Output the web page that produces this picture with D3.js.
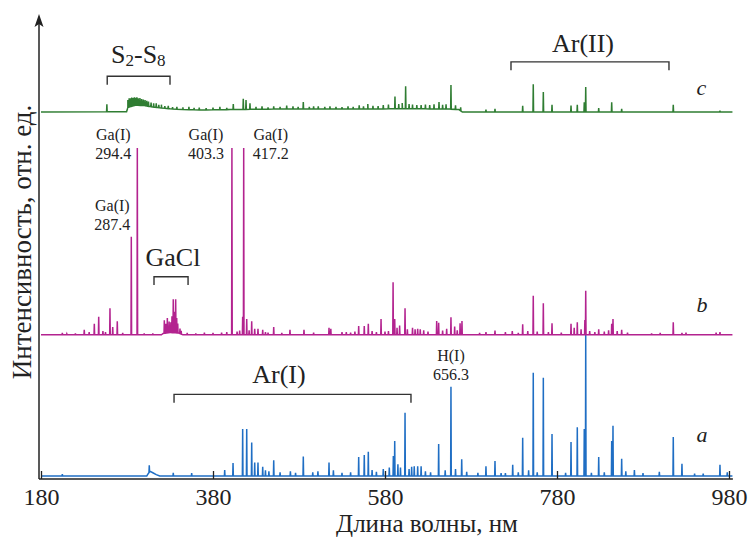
<!DOCTYPE html>
<html lang="ru">
<head>
    <meta charset="UTF-8">
    <script src="https://d3js.org/d3.v7.min.js"></script>
    <style>
        body { margin: 0; background: #fff; }
        text { font-family: "Liberation Serif", "Times New Roman", serif; fill: #222; }
    </style>
</head>
<body>
    <svg id="chart" width="750" height="538"></svg>
    <script>
        // ---- data (wavelength, nm / relative intensity) ----
        const xTicks = [180, 380, 580, 780, 980];
        const seriesOffsets = { a: 0.65, b: 31.0, c: 78.9 };

        // smooth background of each spectrum: [nm, level]
        const contA = [[180, 0], [303, 0], [305, 0.6], [307, 1.0], [310, 0.7], [314, 0.3], [318, 0], [984, 0]];
        const contB = [[180, 0], [320, 0], [322, 0.3], [330, 0.5], [340, 0.4], [345, 0], [984, 0]];
        const contC = [[180, 0], [279.5, 0.1], [281, 1.0], [290, 1.5], [300, 1.4], [310, 1.1], [320, 0.9],
            [330, 0.7], [345, 0.55], [370, 0.45], [400, 0.55], [450, 0.65], [500, 0.65], [560, 0.65],
            [600, 0.75], [655, 0.65], [666, 0.55], [670, 0], [984, 0]];

        // lines: [nm, height above background]
        const peaksA = [[204.8, 0.4], [305.9, 1.5], [333.8, 0.7], [355.2, 0.6], [393.6, 1.3], [403.3, 2.8],
            [414.5, 10.1], [419.2, 10.1], [425.0, 7.2], [428.5, 2.9], [432.3, 2.9], [437.8, 2.0], [441, 1.2],
            [445, 1.0], [450.6, 3.4], [458, 0.8], [470, 1.0], [476, 0.7], [485.0, 4.2], [496, 0.8], [502, 1.0],
            [514.9, 2.9], [520, 1.2], [530, 0.7], [540, 0.8], [549.4, 4.1], [555.9, 4.5], [560.6, 5.2],
            [565, 1.3], [570, 0.9], [578, 1.5], [585, 1.8], [589.7, 4.3], [591.3, 7.5], [595, 2.5], [598, 1.8],
            [603.3, 13.6], [608, 1.5], [611, 2.0], [614, 2.1], [618, 2.1], [622, 2.1], [627, 1.0], [633, 0.8],
            [642.4, 6.9], [650, 1.2], [656.7, 19.2], [662, 1.5], [669.2, 3.6], [675, 0.9], [688, 0.7],
            [697.4, 2.1], [707.9, 3.2], [715, 0.6], [720, 0.6], [728.5, 2.4], [735, 0.8], [740.1, 8.2],
            [747, 1.2], [752.4, 22.2], [757, 0.8], [764.1, 21.1], [774.2, 9.0], [790, 0.7], [796.3, 7.3],
            [803.6, 10.5], [811.7, 10.1], [813.4, 30.3], [820, 0.7], [828.5, 4.1], [835, 0.8], [843.6, 7.5],
            [845.1, 10.8], [855.2, 3.7], [860, 1.0], [870, 1.3], [880, 0.6], [899, 0.9], [915.2, 8.4],
            [925.3, 2.6], [940, 0.5], [950, 0.5], [969.5, 2.4], [978, 0.8]];

        const peaksB = [[204.8, 0.4], [210, 0.2], [220, 0.3], [230.3, 1.1], [236, 0.6], [242, 2.4], [247.1, 3.9],
            [252, 0.8], [255, 0.6], [260.2, 5.7], [263.4, 1.7], [268.7, 2.9], [275, 0.4], [285, 21.1], [292, 40.2],
            [300, 0.3], [310, 0.3], [323.4, 2.8], [325, 2.0], [326.9, 3.2], [329, 2.4], [331, 2.2], [332.3, 3.5],
            [333.8, 7.2], [335, 4.5], [336.6, 7.2], [337.8, 3.2], [339, 2.0], [341.6, 1.1], [343, 0.7],
            [350, 0.4], [360, 0.3], [370, 0.5], [380, 0.4], [390, 0.5], [396, 0.6], [402, 40.2], [408, 0.7],
            [411, 0.9], [414.5, 3.9], [415.7, 40.2], [419.2, 3.4], [422, 1.0], [425, 2.9], [428.5, 1.3],
            [432.3, 1.3], [437.8, 1.1], [441, 0.6], [444, 0.5], [450.6, 1.7], [460, 0.4], [469.5, 1.1],
            [485.8, 1.1], [497, 0.5], [514.9, 1.5], [517, 1.3], [530, 0.6], [535, 0.6], [540, 0.5], [545, 0.7],
            [549.4, 1.9], [555.9, 1.9], [560.6, 2.4], [565, 0.8], [570, 0.6], [575.4, 3.4], [580, 0.7],
            [584, 0.8], [589.4, 11.3], [591.3, 3.4], [594, 1.5], [597, 2.0], [603.3, 5.7], [606, 1.2],
            [612, 1.5], [615, 1.2], [618, 1.3], [621, 1.2], [625, 1.0], [630, 0.7], [640.1, 3.0], [642.4, 2.6],
            [647, 0.9], [651.7, 1.3], [656.7, 3.8], [661, 1.8], [664, 1.0], [667.3, 2.5], [669.5, 3.0],
            [690, 0.4], [697.4, 0.6], [707.9, 0.9], [720, 0.6], [728, 0.8], [735, 0.4], [740.1, 2.3],
            [746, 0.8], [752.4, 8.4], [757, 0.7], [764.1, 6.8], [770, 0.6], [774.2, 2.5], [785, 0.5],
            [796.3, 2.4], [800, 1.5], [803.6, 2.7], [808, 1.2], [812.4, 3.2], [813.4, 9.5], [818, 0.8],
            [824, 0.6], [828.5, 1.2], [835, 0.7], [840, 1.0], [843.6, 2.4], [845.1, 3.4], [850, 0.8],
            [855.2, 1.1], [862, 0.5], [890, 0.3], [900, 0.4], [915.2, 2.7], [925.3, 0.4], [930, 0.5],
            [965, 0.5], [969.5, 0.6]];

        const peaksC = [[256.6, 1.6], [281, 1.6], [282.5, 1.9], [284, 1.8], [285.5, 1.9], [287, 1.7],
            [288.5, 1.8], [290, 1.6], [291.5, 1.7], [293, 1.5], [295, 1.6], [297, 1.4], [299, 1.3], [301, 1.2],
            [303, 1.1], [305, 1.0], [308, 0.9], [311, 0.8], [314, 0.9], [317, 0.6], [320, 0.7], [324, 0.5],
            [328, 0.6], [333, 0.4], [338, 0.5], [345, 0.5], [352, 0.6], [358, 0.4], [364, 0.5], [372, 0.4],
            [380, 0.5], [388, 0.6], [396, 0.4], [403.6, 1.2], [415.2, 2.3], [418.4, 2.0], [423, 1.3],
            [430, 0.5], [437, 0.6], [444, 0.4], [450.6, 0.6], [458, 0.5], [465.7, 0.75], [473, 0.6],
            [479, 0.5], [485, 1.5], [492, 0.5], [497, 0.6], [502.4, 0.6], [510, 0.5], [516, 0.6], [523, 0.5],
            [530, 0.4], [537, 0.6], [543, 0.5], [550, 0.8], [555, 0.6], [560, 1.1], [566, 0.7], [572, 0.6],
            [578, 0.8], [584, 0.9], [591.6, 2.6], [596, 1.0], [600, 1.2], [604, 4.8], [608, 1.0], [612, 0.9],
            [617, 0.8], [622, 0.8], [627, 0.9], [632, 0.8], [637, 1.0], [642.8, 1.5], [647, 0.9], [651, 1.0],
            [656.7, 5.2], [662, 0.9], [668, 0.75], [697.4, 0.55], [707.9, 0.7], [740.1, 1.35], [752.4, 6.0],
            [764.1, 4.3], [774.2, 1.6], [796.3, 1.4], [803.6, 1.6], [811.7, 2.1], [813.4, 5.4], [828.5, 0.9],
            [843.6, 2.1], [855.2, 0.7], [915.2, 1.6], [969.5, 0.3]];

        const lineNames = ["Ga(I)", "Ga(I)", "Ga(I)", "Ga(I)", "H(I)"];
        const lineValues = ["294.4", "287.4", "403.3", "417.2", "656.3"];
        const lineNm = [292, 285, 402, 415.7, 656.7];

        // band brackets: [from nm, to nm, level]
        const bandNames = ["S2-S8", "GaCl", "Ar(I)", "Ar(II)"];
        const bandRanges = [[257, 330, 86.6], [311.4, 351, 43.5], [334.7, 610.2, 18.2], [726.5, 910.2, 89.7]];

        // ---- layout ----
        const svg = d3.select("#chart");
        const x = d3.scaleLinear().domain([180, 980]).range([41, 729]);
        const y = d3.scaleLinear().domain([0, 100]).range([479, 14]);

        const traces = [
            { key: "a", cont: contA, peaks: peaksA, color: "#1f6ec4" },
            { key: "b", cont: contB, peaks: peaksB, color: "#b3238f" },
            { key: "c", cont: contC, peaks: peaksC, color: "#2f7d32" }
        ];

        const line = d3.line().x(d => x(d[0])).y(d => y(d[1]));

        traces.forEach(t => {
            const off = seriesOffsets[t.key];
            const bg = d3.scaleLinear().domain(t.cont.map(d => d[0])).range(t.cont.map(d => d[1]));
            let pts = t.cont.map(d => [d[0], d[1] + off]);
            t.peaks.forEach(p => {
                const w = 0.35;
                pts.push([p[0] - w, bg(p[0] - w) + off]);
                pts.push([p[0], bg(p[0]) + p[1] + off]);
                pts.push([p[0] + w, bg(p[0] + w) + off]);
            });
            pts.sort((a, b) => a[0] - b[0]);
            svg.append("path")
                .datum(pts)
                .attr("fill", "none")
                .attr("stroke", t.color)
                .attr("stroke-width", 1.5)
                .attr("d", line);
        });

        // axes
        const xAxis = svg.append("g")
            .attr("transform", `translate(0,${y(0)})`)
            .call(d3.axisBottom(x).tickValues(xTicks).tickSize(-8).tickSizeOuter(0));
        xAxis.select(".domain").remove();
        xAxis.selectAll(".tick line").attr("stroke", "#222").attr("stroke-width", 1.3);
        xAxis.selectAll(".tick text")
            .attr("y", 26).attr("dy", 0)
            .style("font-size", "24px")
            .style("font-family", "Liberation Serif, serif")
            .attr("fill", "#222");

        svg.append("line")
            .attr("x1", 39).attr("x2", x(984.5))
            .attr("y1", y(0)).attr("y2", y(0))
            .attr("stroke", "#222").attr("stroke-width", 1.5);
        svg.append("line")
            .attr("x1", 39).attr("x2", 39)
            .attr("y1", y(0)).attr("y2", 22)
            .attr("stroke", "#222").attr("stroke-width", 1.5);
        svg.append("path")
            .attr("d", "M39,14 L34.5,27 L39,24 L43.5,27 Z")
            .attr("fill", "#222");

        svg.append("text")
            .attr("x", 427).attr("y", 532.3)
            .attr("text-anchor", "middle")
            .style("font-size", "25px")
            .text("Длина волны, нм");

        svg.append("text")
            .attr("transform", "translate(31,242) rotate(-90)")
            .attr("text-anchor", "middle")
            .style("font-size", "27px")
            .text("Интенсивность, отн. ед.");

        // line labels (dx and baseline are layout)
        const labelShift = [[-24, 140], [-19, 210.7], [-26, 140], [27, 140], [0, 360.7]];
        lineNm.forEach((nm, i) => {
            const g = svg.append("g").style("font-size", "16px").attr("text-anchor", "middle");
            const cx = x(nm) + labelShift[i][0];
            g.append("text").attr("x", cx).attr("y", labelShift[i][1]).text(lineNames[i]);
            g.append("text").attr("x", cx).attr("y", labelShift[i][1] + 19.3).text(lineValues[i]);
        });

        // band brackets
        bandRanges.forEach(b => {
            const leg = 1.8;
            svg.append("path")
                .attr("d", `M${x(b[0])},${y(b[2] - leg)} V${y(b[2])} H${x(b[1])} V${y(b[2] - leg)}`)
                .attr("fill", "none").attr("stroke", "#333").attr("stroke-width", 1.4);
        });

        const big = svg.append("g").style("font-size", "26px");
        const s = big.append("text").attr("x", 111).attr("y", 63.3);
        s.append("tspan").text("S");
        s.append("tspan").attr("dy", 3).style("font-size", "17px").text(bandNames[0].charAt(1));
        s.append("tspan").attr("dy", -3).text("-S");
        s.append("tspan").attr("dy", 3).style("font-size", "17px").text(bandNames[0].charAt(4));
        big.append("text").attr("x", 173).attr("y", 265.7).attr("text-anchor", "middle").text(bandNames[1]);
        big.append("text").attr("x", 279).attr("y", 383.3).attr("text-anchor", "middle").text(bandNames[2]);
        big.append("text").attr("x", 583).attr("y", 51.7).attr("text-anchor", "middle").text(bandNames[3]);

        // series letters
        const letters = [["c", 95], ["b", 311.7], ["a", 441.7]];
        letters.forEach(d => {
            svg.append("text").attr("x", 696.5).attr("y", d[1])
                .style("font-size", "22px").style("font-style", "italic").text(d[0]);
        });
    </script>
</body>
</html>
